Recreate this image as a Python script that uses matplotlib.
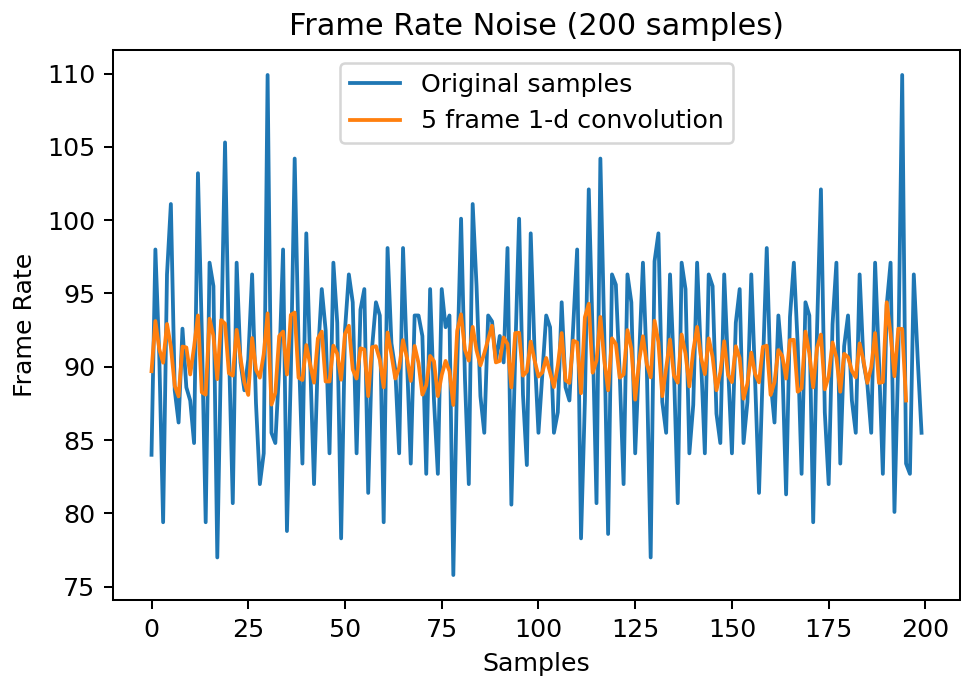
import numpy as np
import matplotlib
matplotlib.use("Agg")
import matplotlib.pyplot as plt

# frame rate samples
samples = [
    84.0, 98.0, 90.8, 79.4, 96.3, 101.1, 88.4, 86.2, 92.6, 88.6,
    87.7, 84.8, 103.2, 92.3, 79.4, 97.1, 95.5, 77.0, 91.5, 105.3,
    91.3, 80.7, 97.1, 90.3, 88.4, 90.5, 96.3, 87.5, 82.0, 84.1,
    109.9, 85.5, 84.8, 90.0, 98.0, 78.8, 89.5, 104.2, 91.5, 83.4,
    99.1, 90.3, 82.0, 90.7, 95.3, 92.5, 84.1, 97.1, 93.0, 78.3,
    92.5, 96.3, 94.4, 84.1, 93.9, 95.3, 81.4, 91.3, 94.4, 93.5,
    79.4, 98.1, 91.6, 89.8, 84.1, 98.1, 90.6, 83.4, 93.5, 93.5,
    92.1, 82.7, 95.3, 87.7, 82.7, 95.3, 92.7, 93.5, 75.8, 89.9,
    100.1, 89.2, 82.0, 101.1, 95.5, 88.0, 85.5, 93.5, 93.1, 90.4,
    92.1, 90.3, 98.1, 80.6, 90.9, 100.1, 88.1, 83.3, 99.1, 91.0,
    85.5, 89.5, 93.5, 92.7, 85.5, 86.9, 94.4, 88.6, 87.7, 92.8,
    98.0, 78.3, 87.7, 102.1, 92.2, 80.7, 104.2, 92.3, 78.6, 96.3,
    95.6, 89.5, 82.0, 96.3, 94.4, 84.1, 90.6, 97.1, 90.0, 77.0,
    97.2, 99.1, 87.6, 85.5, 96.3, 89.9, 80.7, 97.1, 95.3, 84.1,
    87.4, 97.1, 90.6, 84.1, 96.3, 95.5, 86.8, 84.8, 96.3, 90.0,
    84.1, 93.0, 95.3, 84.8, 87.6, 96.3, 89.0, 81.4, 90.0, 98.1,
    89.0, 86.2, 93.5, 90.4, 81.3, 93.4, 97.1, 91.5, 82.7, 94.4,
    93.5, 79.4, 92.6, 102.1, 86.9, 82.0, 92.9, 97.1, 83.4, 91.4,
    93.5, 87.7, 85.5, 96.3, 90.3, 88.8, 85.5, 97.1, 90.4, 82.7,
    94.2, 97.1, 80.1, 90.7, 109.9, 83.4, 82.7, 96.3, 90.6, 85.5,
]
window = 5

smoothed = np.convolve(samples, np.ones(window) / window, mode="valid")

dpi = 182
fig = plt.figure(figsize=(961 / dpi, 680 / dpi), dpi=dpi)
ax = fig.add_axes([0.1176, 0.1176, 0.8814, 0.8089])

ax.plot(range(len(samples)), samples, label="Original samples")
ax.plot(range(len(smoothed)), smoothed, label=f"{window} frame 1-d convolution")

ax.set_title(f"Frame Rate Noise ({len(samples)} samples)")
ax.set_xlabel("Samples")
ax.set_ylabel("Frame Rate")
ax.legend(loc="upper center")

fig.savefig("out.png", dpi=dpi)
